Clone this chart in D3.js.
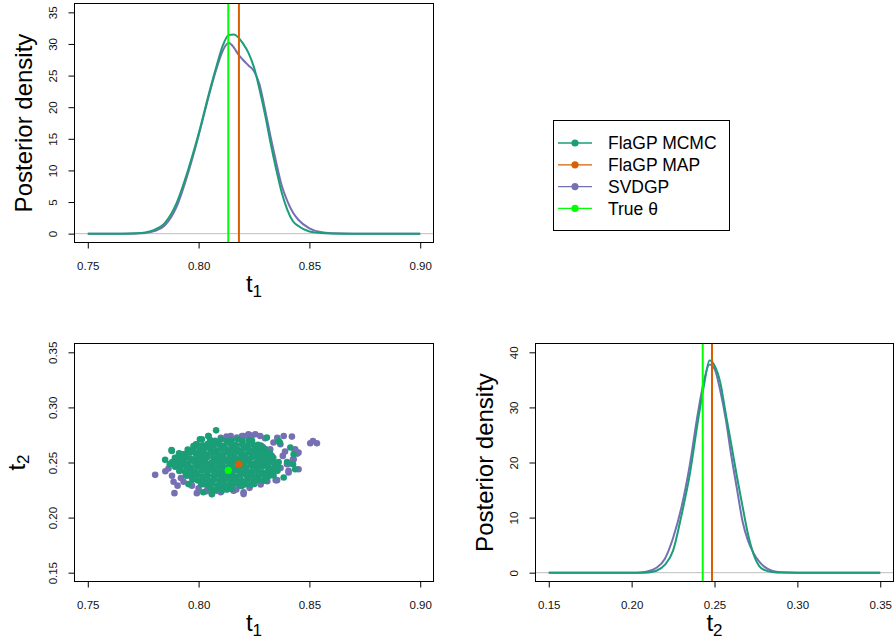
<!DOCTYPE html>
<html>
<head>
<meta charset="utf-8">
<script src="https://cdnjs.cloudflare.com/ajax/libs/d3/7.8.5/d3.min.js"></script>
<style>
body { margin: 0; background: #fff; }
svg { font-family: "Liberation Sans", Arial, Helvetica, sans-serif; }
</style>
</head>
<body>
<script>
// posterior densities
var t1Grid = [0.75, 0.765, 0.772, 0.776, 0.780, 0.785, 0.790, 0.795, 0.800, 0.805, 0.808, 0.811, 0.8135, 0.816, 0.818, 0.820, 0.8225, 0.825, 0.8275, 0.830, 0.8325, 0.835, 0.8375, 0.840, 0.8425, 0.845, 0.850, 0.855, 0.860, 0.870, 0.90];
var t1Mcmc = [0, 0, 0.05, 0.2, 0.6, 1.8, 4.8, 9.8, 15.8, 22.6, 26.4, 29.8, 31.4, 31.5, 31.0, 30.1, 28.6, 26.3, 22.8, 18.8, 14.3, 10.2, 6.5, 3.8, 2.0, 1.2, 0.35, 0.1, 0.02, 0, 0];
var t1Svd = [0, 0, 0.03, 0.12, 0.4, 1.4, 4.2, 9.3, 15.5, 22.3, 26.0, 29.0, 30.2, 29.4, 28.3, 27.5, 26.6, 25.7, 23.6, 19.6, 15.3, 11.3, 7.6, 5.2, 3.4, 2.2, 0.85, 0.25, 0.07, 0, 0];

var t2Grid = [0.15, 0.19, 0.200, 0.205, 0.210, 0.215, 0.220, 0.225, 0.230, 0.235, 0.240, 0.2435, 0.247, 0.250, 0.2535, 0.257, 0.260, 0.2635, 0.267, 0.270, 0.2735, 0.277, 0.280, 0.285, 0.290, 0.30, 0.35];
var t2Mcmc = [0, 0, 0, 0, 0.05, 0.35, 1.4, 4.0, 10.3, 17.7, 27.5, 33.8, 38.5, 37.6, 34.5, 28.5, 23.5, 17.5, 11.9, 7.3, 3.4, 1.2, 0.5, 0.12, 0.02, 0, 0];
var t2Svd = [0, 0, 0.01, 0.05, 0.25, 0.9, 2.5, 6.3, 11.8, 19.4, 29.0, 34.6, 37.8, 37.0, 33.0, 27.5, 21.5, 15.3, 9.2, 6.0, 3.6, 2.0, 1.1, 0.3, 0.06, 0, 0];

var trueTheta = [0.8134, 0.2429];
var mapTheta = [0.8182, 0.2485];

// joint samples (t1, t2)
var svdgpSamples = [
    [0.7804, 0.2388], [0.7891, 0.2222], [0.7992, 0.2222], [0.7887, 0.2325], [0.7932, 0.2325], [0.7864, 0.2446],
    [0.7902, 0.2545], [0.7932, 0.2500], [0.7977, 0.2394], [0.8022, 0.2304], [0.8128, 0.2726], [0.8173, 0.2726],
    [0.8196, 0.2740], [0.8128, 0.2259], [0.8060, 0.2213], [0.8045, 0.2650], [0.8022, 0.2590], [0.8188, 0.2288],
    [0.8158, 0.2243], [0.8203, 0.2229], [0.8203, 0.2740], [0.8225, 0.2756], [0.8256, 0.2756], [0.8278, 0.2740],
    [0.8384, 0.2740], [0.8421, 0.2735], [0.8338, 0.2681], [0.8369, 0.2666], [0.8436, 0.2620], [0.8451, 0.2590],
    [0.8429, 0.2530], [0.8451, 0.2439], [0.8406, 0.2424], [0.8354, 0.2340], [0.8504, 0.2675], [0.8534, 0.2675],
    [0.8516, 0.2695], [0.8203, 0.2213], [0.8323, 0.2620], [0.8399, 0.2485], [0.8126, 0.2735], [0.7946, 0.2380],
    [0.7970, 0.2290], [0.8080, 0.2244], [0.8156, 0.2250], [0.8348, 0.2340], [0.8406, 0.2410], [0.8426, 0.2530],
    [0.7880, 0.2380], [0.8100, 0.2725], [0.8145, 0.2740], [0.8240, 0.2745], [0.8300, 0.2720], [0.8355, 0.2725],
    [0.7850, 0.2420], [0.7920, 0.2360], [0.7905, 0.2290], [0.8000, 0.2265], [0.8035, 0.2240], [0.8100, 0.2230],
    [0.8170, 0.2255], [0.8230, 0.2270], [0.8280, 0.2300], [0.8310, 0.2330], [0.8446, 0.2581], [0.8433, 0.2614],
    [0.8290, 0.2640], [0.8330, 0.2560], [0.8340, 0.2500], [0.8380, 0.2560], [0.8370, 0.2450], [0.8330, 0.2400],
    [0.8390, 0.2600], [0.8410, 0.2490], [0.8100, 0.2500], [0.8200, 0.2550], [0.8150, 0.2400], [0.8050, 0.2450]
];

var mcmcSamples = [
    [0.8052, 0.2703], [0.8074, 0.2697], [0.8101, 0.2709], [0.8126, 0.2695], [0.8149, 0.2702], [0.8177, 0.2711], [0.8198, 0.2694], [0.8226, 0.2704], [0.8241, 0.2698],
    [0.7992, 0.2662], [0.8018, 0.2655], [0.8041, 0.2668], [0.8068, 0.2659], [0.8093, 0.2664], [0.8117, 0.2651], [0.8144, 0.2667], [0.8168, 0.2658], [0.8195, 0.2663],
    [0.8219, 0.2656], [0.8243, 0.2669], [0.8268, 0.2661], [0.8281, 0.2654],
    [0.7951, 0.2618], [0.7977, 0.2624], [0.8004, 0.2613], [0.8026, 0.2627], [0.8053, 0.2619], [0.8079, 0.2611], [0.8102, 0.2625], [0.8129, 0.2616], [0.8153, 0.2622],
    [0.8178, 0.2612], [0.8204, 0.2626], [0.8227, 0.2617], [0.8253, 0.2621], [0.8276, 0.2614], [0.8301, 0.2623],
    [0.7912, 0.2583], [0.7938, 0.2576], [0.7961, 0.2588], [0.7988, 0.2579], [0.8012, 0.2585], [0.8037, 0.2573], [0.8063, 0.2587], [0.8086, 0.2581], [0.8112, 0.2574],
    [0.8137, 0.2586], [0.8161, 0.2578], [0.8188, 0.2584], [0.8212, 0.2572], [0.8236, 0.2589], [0.8262, 0.2577], [0.8287, 0.2582], [0.8311, 0.2575], [0.8322, 0.2586],
    [0.7893, 0.2542], [0.7917, 0.2536], [0.7943, 0.2547], [0.7966, 0.2533], [0.7992, 0.2544], [0.8017, 0.2538], [0.8041, 0.2549], [0.8068, 0.2535], [0.8091, 0.2543],
    [0.8117, 0.2531], [0.8142, 0.2546], [0.8166, 0.2539], [0.8192, 0.2541], [0.8217, 0.2534], [0.8241, 0.2548], [0.8266, 0.2537], [0.8291, 0.2545], [0.8314, 0.2532],
    [0.8337, 0.2543],
    [0.7881, 0.2503], [0.7906, 0.2496], [0.7931, 0.2508], [0.7954, 0.2493], [0.7981, 0.2505], [0.8004, 0.2498], [0.8029, 0.2509], [0.8056, 0.2494], [0.8079, 0.2502],
    [0.8104, 0.2491], [0.8131, 0.2507], [0.8154, 0.2499], [0.8179, 0.2504], [0.8203, 0.2495], [0.8229, 0.2506], [0.8254, 0.2492], [0.8278, 0.2501], [0.8303, 0.2497],
    [0.8328, 0.2508], [0.8352, 0.2494], [0.8361, 0.2503],
    [0.7894, 0.2462], [0.7918, 0.2455], [0.7944, 0.2467], [0.7967, 0.2452], [0.7993, 0.2464], [0.8018, 0.2458], [0.8042, 0.2469], [0.8066, 0.2453], [0.8092, 0.2461],
    [0.8116, 0.2456], [0.8141, 0.2466], [0.8167, 0.2451], [0.8191, 0.2463], [0.8216, 0.2457], [0.8242, 0.2468], [0.8267, 0.2454], [0.8291, 0.2465], [0.8316, 0.2459],
    [0.8341, 0.2452], [0.8358, 0.2463],
    [0.7913, 0.2423], [0.7939, 0.2416], [0.7962, 0.2428], [0.7987, 0.2413], [0.8013, 0.2425], [0.8036, 0.2418], [0.8062, 0.2429], [0.8087, 0.2414], [0.8111, 0.2422],
    [0.8136, 0.2411], [0.8162, 0.2427], [0.8186, 0.2419], [0.8211, 0.2424], [0.8237, 0.2415], [0.8261, 0.2426], [0.8286, 0.2412], [0.8312, 0.2421], [0.8337, 0.2417],
    [0.8356, 0.2425],
    [0.7943, 0.2382], [0.7967, 0.2376], [0.7992, 0.2387], [0.8017, 0.2373], [0.8041, 0.2385], [0.8067, 0.2378], [0.8091, 0.2389], [0.8116, 0.2374], [0.8142, 0.2381],
    [0.8166, 0.2372], [0.8191, 0.2386], [0.8217, 0.2379], [0.8241, 0.2384], [0.8266, 0.2375], [0.8291, 0.2388], [0.8316, 0.2377], [0.8338, 0.2383],
    [0.7972, 0.2343], [0.7997, 0.2336], [0.8022, 0.2347], [0.8046, 0.2333], [0.8071, 0.2345], [0.8097, 0.2338], [0.8121, 0.2349], [0.8146, 0.2334], [0.8172, 0.2342],
    [0.8196, 0.2331], [0.8221, 0.2346], [0.8247, 0.2339], [0.8271, 0.2344], [0.8294, 0.2335], [0.8301, 0.2341],
    [0.8012, 0.2303], [0.8037, 0.2296], [0.8061, 0.2307], [0.8086, 0.2294], [0.8112, 0.2305], [0.8137, 0.2298], [0.8161, 0.2308], [0.8187, 0.2293], [0.8212, 0.2302],
    [0.8236, 0.2297], [0.8251, 0.2306],
    [0.8053, 0.2263], [0.8078, 0.2256], [0.8103, 0.2266], [0.8128, 0.2254], [0.8149, 0.2261],
    [0.7849, 0.2524], [0.7879, 0.2605], [0.7925, 0.2575], [0.7977, 0.2650], [0.8015, 0.2711], [0.8045, 0.2740], [0.8079, 0.2792], [0.7954, 0.2304], [0.8060, 0.2213],
    [0.8105, 0.2243], [0.8021, 0.2230], [0.8308, 0.2726], [0.8361, 0.2695], [0.8414, 0.2636], [0.8429, 0.2575], [0.8436, 0.2439], [0.8399, 0.2505], [0.8384, 0.2364],
    [0.8256, 0.2334], [0.8196, 0.2288], [0.7870, 0.2485], [0.7923, 0.2500], [0.7878, 0.2614], [0.7988, 0.2666], [0.8006, 0.2711], [0.8044, 0.2741], [0.8426, 0.2485],
    [0.8366, 0.2681]
];

var t1Ticks = [0.75, 0.80, 0.85, 0.90];
var t2Ticks = [0.15, 0.20, 0.25, 0.30, 0.35];
var dens1Ticks = [0, 5, 10, 15, 20, 25, 30, 35];
var dens2Ticks = [0, 10, 20, 30, 40];

var legendNames = ["FlaGP MCMC", "FlaGP MAP", "SVDGP", "True \u03b8"];
var legendColors = ["#1B9E77", "#D95F02", "#7570B3", "#00FF00"];

var colMcmc = legendColors[0], colMap = legendColors[1], colSvd = legendColors[2], colTrue = legendColors[3];


var svg = d3.select("body").append("svg")
        .attr("width", 894)
        .attr("height", 639);

// one base-graphics style panel: outward ticks, rotated y labels
function panel(box, xLim, yLim, xTicks, yTicks, yFmt) {
    var xPad = (xLim[1] - xLim[0]) * 0.04,
        yPad = (yLim[1] - yLim[0]) * 0.04;

    var x = d3.scaleLinear()
            .domain([xLim[0] - xPad, xLim[1] + xPad])
            .range([box.x0, box.x1]);
    var y = d3.scaleLinear()
            .domain([yLim[0] - yPad, yLim[1] + yPad])
            .range([box.y1, box.y0]);

    var xAxis = d3.axisBottom(x).tickValues(xTicks).tickFormat(d3.format(".2f")).tickSize(6);
    var yAxis = d3.axisLeft(y).tickValues(yTicks).tickFormat(yFmt).tickSize(6);

    var gx = svg.append("g")
            .attr("transform", "translate(0," + box.y1 + ")")
            .attr("font-family", null)
            .call(xAxis);
    gx.select(".domain").remove();
    gx.selectAll("text")
            .attr("y", 19)
            .attr("font-size", "11.5px")
            .attr("fill", "#111");

    var gy = svg.append("g")
            .attr("transform", "translate(" + box.x0 + ",0)")
            .call(yAxis);
    gy.select(".domain").remove();
    gy.selectAll("text")
            .attr("x", null)
            .attr("dy", null)
            .attr("transform", "translate(-18,0) rotate(-90)")
            .attr("text-anchor", "middle")
            .attr("font-size", "11.5px")
            .attr("fill", "#111");
    gx.attr("font-family", null);
    gy.attr("font-family", null);

    var g = svg.append("g");
    return {x: x, y: y, g: g, box: box};
}

function frame(p) {
    svg.append("rect")
            .attr("x", p.box.x0)
            .attr("y", p.box.y0)
            .attr("width", p.box.x1 - p.box.x0)
            .attr("height", p.box.y1 - p.box.y0)
            .attr("fill", "none")
            .attr("stroke", "#000")
            .attr("stroke-width", 1);
}

function xLabel(p, sub) {
    var t = svg.append("text")
            .attr("x", (p.box.x0 + p.box.x1) / 2)
            .attr("y", p.box.y1 + 49.5)
            .attr("text-anchor", "middle")
            .attr("font-size", "24px");
    t.append("tspan").text("t");
    t.append("tspan").attr("dy", 5).attr("font-size", "17px").text(sub);
}

function yLabel(p, txt, sub, off) {
    var cy = (p.box.y0 + p.box.y1) / 2;
    var t = svg.append("text")
            .attr("transform", "translate(" + (p.box.x0 - off) + "," + cy + ") rotate(-90)")
            .attr("text-anchor", "middle")
            .attr("font-size", "24px");
    t.append("tspan").text(txt);
    if (sub) t.append("tspan").attr("dy", 4).attr("font-size", "17px").text(sub);
}

function densityPanel(p, grid, mcmc, svd, trueV, mapV) {
    p.g.append("line")
            .attr("x1", p.box.x0).attr("x2", p.box.x1)
            .attr("y1", p.y(0)).attr("y2", p.y(0))
            .attr("stroke", "#bebebe")
            .attr("stroke-width", 1);

    var line = d3.line()
            .x(function(d, i) { return p.x(grid[i]); })
            .y(function(d) { return p.y(d); })
            .curve(d3.curveMonotoneX);

    p.g.append("path").datum(svd)
            .attr("d", line)
            .attr("fill", "none")
            .attr("stroke", colSvd)
            .attr("stroke-width", 2);
    p.g.append("path").datum(mcmc)
            .attr("d", line)
            .attr("fill", "none")
            .attr("stroke", colMcmc)
            .attr("stroke-width", 2);

    [[trueV, colTrue], [mapV, colMap]].forEach(function(v) {
        p.g.append("line")
                .attr("x1", p.x(v[0])).attr("x2", p.x(v[0]))
                .attr("y1", p.box.y0).attr("y2", p.box.y1)
                .attr("stroke", v[1])
                .attr("stroke-width", 2);
    });
}

// top left: t1 density
var p1 = panel({x0: 74.5, x1: 433.5, y0: 3.5, y1: 242.5}, [0.75, 0.90], [0, 35], t1Ticks, dens1Ticks, d3.format("d"));
densityPanel(p1, t1Grid, t1Mcmc, t1Svd, trueTheta[0], mapTheta[0]);
frame(p1);
xLabel(p1, "1");
yLabel(p1, "Posterior density", null, 43);

// bottom left: joint samples, SVDGP underneath
var p3 = panel({x0: 74.5, x1: 433.5, y0: 343.5, y1: 581.5}, [0.75, 0.90], [0.15, 0.35], t1Ticks, t2Ticks, d3.format(".2f"));
p3.g.selectAll("circle.svd")
        .data(svdgpSamples)
    .enter().append("circle")
        .attr("class", "svd")
        .attr("cx", function(d) { return p3.x(d[0]); })
        .attr("cy", function(d) { return p3.y(d[1]); })
        .attr("r", 3.3)
        .attr("fill", colSvd);
p3.g.selectAll("circle.mcmc")
        .data(mcmcSamples)
    .enter().append("circle")
        .attr("class", "mcmc")
        .attr("cx", function(d) { return p3.x(d[0]); })
        .attr("cy", function(d) { return p3.y(d[1]); })
        .attr("r", 3.3)
        .attr("fill", colMcmc);
[[mapTheta, colMap], [trueTheta, colTrue]].forEach(function(v) {
    p3.g.append("circle")
            .attr("cx", p3.x(v[0][0]))
            .attr("cy", p3.y(v[0][1]))
            .attr("r", 3.6)
            .attr("fill", v[1]);
});
frame(p3);
xLabel(p3, "1");
yLabel(p3, "t", "2", 49.5);

// bottom right: t2 density
var p4 = panel({x0: 535.5, x1: 893.5, y0: 343.5, y1: 581.5}, [0.15, 0.35], [0, 40], t2Ticks, dens2Ticks, d3.format("d"));
densityPanel(p4, t2Grid, t2Mcmc, t2Svd, trueTheta[1], mapTheta[1]);
frame(p4);
xLabel(p4, "2");
yLabel(p4, "Posterior density", null, 43);

// legend in the empty top right slot
var leg = svg.append("g");
leg.append("rect")
        .attr("x", 553.5)
        .attr("y", 120.5)
        .attr("width", 176)
        .attr("height", 110)
        .attr("fill", "#fff")
        .attr("stroke", "#000");
legendNames.forEach(function(name, i) {
    var ly = 143 + i * 21.8;
    leg.append("line")
            .attr("x1", 558).attr("x2", 592)
            .attr("y1", ly).attr("y2", ly)
            .attr("stroke", legendColors[i])
            .attr("stroke-width", 1.3);
    leg.append("circle")
            .attr("cx", 575).attr("cy", ly)
            .attr("r", 3.6)
            .attr("fill", legendColors[i]);
    leg.append("text")
            .attr("x", 608).attr("y", ly)
            .attr("dy", "0.36em")
            .attr("font-size", "17.5px")
            .text(name);
});
</script>
</body>
</html>
